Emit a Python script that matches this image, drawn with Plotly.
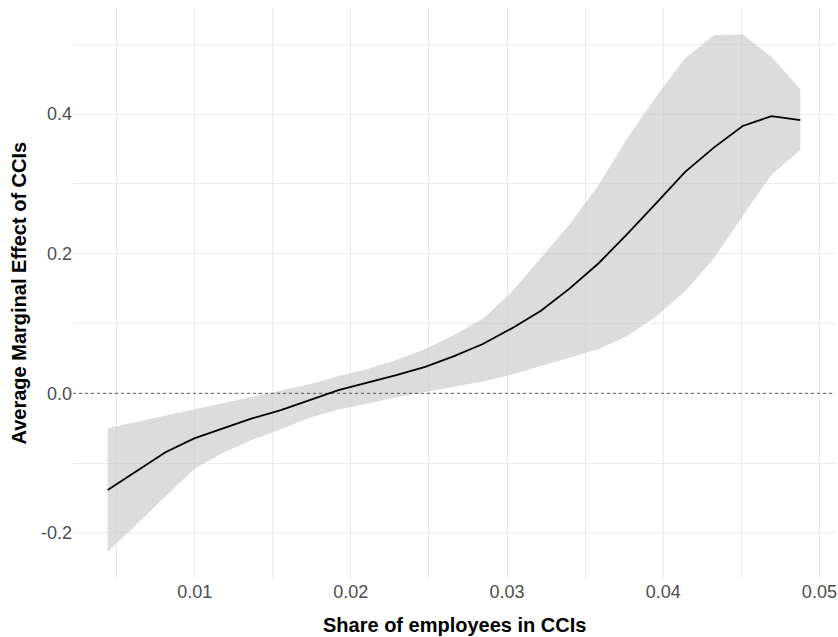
import plotly.graph_objects as go

share = [0.00443, 0.00628, 0.00813, 0.00997, 0.01182, 0.01367, 0.01552, 0.01737,
         0.01921, 0.02106, 0.02291, 0.02476, 0.02661, 0.02845, 0.03030, 0.03215,
         0.03400, 0.03585, 0.03769, 0.03954, 0.04139, 0.04324, 0.04509, 0.04693, 0.04878]
ame = [-0.1385, -0.112, -0.0845, -0.0645, -0.050, -0.036, -0.024, -0.010,
       0.0047, 0.0152, 0.026, 0.038, 0.0534, 0.0706, 0.093, 0.118,
       0.150, 0.186, 0.228, 0.272, 0.317, 0.352, 0.383, 0.397, 0.3915]
upper = [-0.050, -0.041, -0.032, -0.023, -0.014, -0.005, 0.004, 0.013,
         0.0248, 0.035, 0.0477, 0.0635, 0.0835, 0.107, 0.145, 0.193,
         0.242, 0.298, 0.365, 0.425, 0.480, 0.513, 0.514, 0.482, 0.4355]
lower = [-0.227, -0.187, -0.148, -0.1085, -0.085, -0.067, -0.0516, -0.035,
         -0.023, -0.015, -0.0057, 0.002, 0.009, 0.017, 0.027, 0.039,
         0.050, 0.063, 0.082, 0.110, 0.146, 0.193, 0.254, 0.313, 0.3486]

x_ticks = [0.01, 0.02, 0.03, 0.04, 0.05]
x_labels = ["0.01", "0.02", "0.03", "0.04", "0.05"]
y_ticks = [-0.2, 0.0, 0.2, 0.4]
y_labels = ["-0.2", "0.0", "0.2", "0.4"]
x_title = "Share of employees in CCIs"
y_title = "Average Marginal Effect of CCIs"

fig = go.Figure()
fig.add_trace(go.Scatter(x=share, y=upper, mode="lines", line=dict(width=0),
                         showlegend=False, hoverinfo="skip"))
fig.add_trace(go.Scatter(x=share, y=lower, mode="lines", line=dict(width=0),
                         fill="tonexty", fillcolor="rgba(197,197,197,0.6)",
                         showlegend=False, hoverinfo="skip"))
fig.add_hline(y=0, line=dict(color="black", width=0.6, dash="3px,3px"))
fig.add_trace(go.Scatter(x=share, y=ame, mode="lines",
                         line=dict(color="black", width=1.8), showlegend=False))

grid = "#EBEBEB"
fig.update_layout(
    width=838, height=637,
    margin=dict(l=73, r=3, t=8, b=58, autoexpand=False),
    paper_bgcolor="white", plot_bgcolor="white",
    font=dict(family="Liberation Sans, Arial, sans-serif"),
    xaxis=dict(range=[0.00221, 0.05100], tickvals=x_ticks, ticktext=x_labels,
               automargin=False,
               showgrid=True, gridcolor=grid, gridwidth=1.1, zeroline=False,
               showline=False, ticks="", tickfont=dict(size=18, color="#4D4D4D"),
               minor=dict(dtick=0.005, tick0=0.005, showgrid=True, gridcolor=grid, gridwidth=0.6)),
    yaxis=dict(range=[-0.266, 0.552], tickvals=y_ticks, ticktext=y_labels,
               automargin=False,
               showgrid=True, gridcolor=grid, gridwidth=1.1, zeroline=False,
               showline=False, ticks="", tickfont=dict(size=18, color="#4D4D4D"),
               minor=dict(dtick=0.1, tick0=0.1, showgrid=True, gridcolor=grid, gridwidth=0.6)),
    annotations=[
        dict(text="<b>" + x_title + "</b>", xref="paper", yref="paper", x=0.5, y=0,
             xanchor="center", yanchor="middle", yshift=-46, showarrow=False,
             font=dict(size=20, color="black")),
        dict(text="<b>" + y_title + "</b>", xref="paper", yref="paper", x=0, y=0.5,
             xanchor="center", yanchor="middle", xshift=-55, textangle=-90, showarrow=False,
             font=dict(size=20, color="black")),
    ],
)
fig.write_html("out.html", config={"displayModeBar": False},
               post_script="document.body.style.margin='0';document.body.style.overflow='hidden';")
